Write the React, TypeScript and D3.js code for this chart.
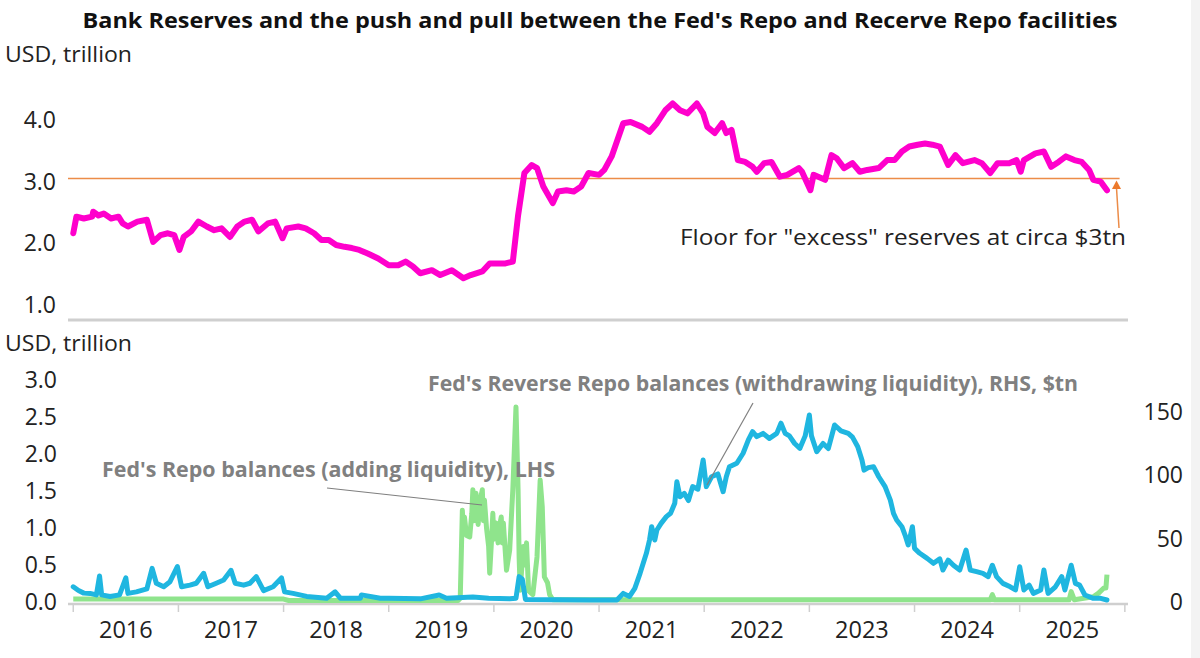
import { useRef, useEffect } from 'react';
import * as d3 from 'd3';

const TITLE = "Bank Reserves and the push and pull between the Fed's Repo and Recerve Repo facilities";
const UNIT_LABEL = 'USD, trillion';
const YEARS = [2016, 2017, 2018, 2019, 2020, 2021, 2022, 2023, 2024, 2025];
const TOP_TICKS = [1, 2, 3, 4];
const LHS_TICKS = [0, 0.5, 1, 1.5, 2, 2.5, 3];
const RHS_TICKS = [0, 50, 100, 150];
const FLOOR = 3.05;
const FLOOR_NOTE = 'Floor for "excess" reserves at circa $3tn';
const REPO_NOTE = "Fed's Repo balances (adding liquidity), LHS";
const RRP_NOTE = "Fed's Reverse Repo balances (withdrawing liquidity), RHS, $tn";

// bank reserves, [decimal year, USD tn]
const reserves: [number, number][] = [
  [2016.0, 2.16], [2016.03, 2.43], [2016.1, 2.4], [2016.18, 2.43], [2016.19, 2.51], [2016.24, 2.45], [2016.29, 2.48], [2016.36, 2.4],
  [2016.43, 2.43], [2016.47, 2.32], [2016.52, 2.27], [2016.61, 2.35], [2016.7, 2.38], [2016.76, 2.02],
  [2016.83, 2.13], [2016.9, 2.16], [2016.96, 2.13], [2017.01, 1.89], [2017.05, 2.1], [2017.12, 2.19],
  [2017.19, 2.35], [2017.27, 2.27], [2017.34, 2.21], [2017.41, 2.24], [2017.49, 2.1], [2017.56, 2.27],
  [2017.63, 2.35], [2017.7, 2.38], [2017.76, 2.19], [2017.85, 2.32], [2017.92, 2.35], [2017.99, 2.08],
  [2018.03, 2.24], [2018.14, 2.27], [2018.21, 2.24], [2018.29, 2.16], [2018.36, 2.05], [2018.43, 2.05],
  [2018.5, 1.97], [2018.58, 1.94], [2018.65, 1.92], [2018.72, 1.89], [2018.8, 1.83], [2018.9, 1.75],
  [2019.0, 1.64], [2019.09, 1.64], [2019.16, 1.7], [2019.23, 1.62], [2019.3, 1.51], [2019.41, 1.56],
  [2019.49, 1.48], [2019.6, 1.56], [2019.71, 1.43], [2019.78, 1.48], [2019.89, 1.54], [2019.96, 1.67],
  [2020.03, 1.67], [2020.11, 1.67], [2020.18, 1.7], [2020.23, 2.45], [2020.29, 3.14], [2020.36, 3.27],
  [2020.41, 3.22], [2020.47, 2.92], [2020.56, 2.65], [2020.61, 2.84], [2020.69, 2.86], [2020.76, 2.84],
  [2020.83, 2.92], [2020.9, 3.14], [2021.0, 3.11], [2021.05, 3.19], [2021.12, 3.41], [2021.23, 3.95],
  [2021.3, 3.97], [2021.41, 3.89], [2021.48, 3.81], [2021.55, 3.95], [2021.63, 4.16], [2021.7, 4.27],
  [2021.77, 4.16], [2021.84, 4.11], [2021.93, 4.27], [2021.99, 4.11], [2022.03, 3.89], [2022.1, 3.79],
  [2022.17, 3.95], [2022.21, 3.79], [2022.26, 3.84], [2022.32, 3.35], [2022.39, 3.32], [2022.46, 3.24],
  [2022.5, 3.16], [2022.57, 3.3], [2022.64, 3.32], [2022.72, 3.08], [2022.79, 3.11], [2022.9, 3.22],
  [2022.93, 3.16], [2023.01, 2.86], [2023.04, 3.11], [2023.15, 3.03], [2023.21, 3.43], [2023.26, 3.38],
  [2023.33, 3.22], [2023.41, 3.3], [2023.48, 3.16], [2023.55, 3.19], [2023.66, 3.22], [2023.74, 3.35],
  [2023.81, 3.35], [2023.88, 3.49], [2023.95, 3.57], [2024.03, 3.6], [2024.1, 3.62], [2024.17, 3.6],
  [2024.24, 3.57], [2024.32, 3.27], [2024.39, 3.43], [2024.46, 3.3], [2024.57, 3.35], [2024.64, 3.3],
  [2024.72, 3.14], [2024.79, 3.3], [2024.9, 3.3], [2024.97, 3.35], [2025.01, 3.16], [2025.04, 3.35],
  [2025.15, 3.46], [2025.23, 3.49], [2025.3, 3.24], [2025.37, 3.32], [2025.44, 3.41], [2025.52, 3.35],
  [2025.59, 3.32], [2025.66, 3.19], [2025.7, 3.03], [2025.77, 3.0], [2025.83, 2.86],
];

// reverse repo, right-hand scale
const rrp: [number, number][] = [
  [2016.0, 12], [2016.05, 9], [2016.1, 7], [2016.16, 6.8], [2016.22, 5.6], [2016.25, 20.5], [2016.27, 5.6],
  [2016.35, 4.4], [2016.44, 5.6], [2016.5, 19], [2016.52, 6.8], [2016.6, 8], [2016.7, 10.4], [2016.75, 26.5],
  [2016.79, 14.8], [2016.86, 12], [2016.92, 16], [2016.99, 28], [2017.03, 12], [2017.11, 13.3],
  [2017.17, 14.8], [2017.24, 22.6], [2017.28, 12], [2017.36, 14.8], [2017.43, 17.3], [2017.5, 25],
  [2017.54, 14.8], [2017.62, 13.3], [2017.68, 14.8], [2017.74, 20], [2017.81, 9], [2017.9, 12],
  [2017.98, 19], [2018.01, 8], [2018.09, 6.8], [2018.22, 4.4], [2018.41, 3], [2018.49, 8], [2018.54, 3],
  [2018.73, 3], [2018.74, 5.6], [2018.92, 3], [2019.0, 2.9], [2019.3, 2.5], [2019.48, 5.5], [2019.55, 3],
  [2019.8, 4], [2019.95, 3], [2020.15, 2.5], [2020.21, 3], [2020.24, 20], [2020.27, 18], [2020.3, 2],
  [2020.6, 1.8], [2020.91, 1.6], [2021.17, 1.6], [2021.23, 6.8], [2021.29, 4.4], [2021.34, 10.8],
  [2021.39, 22.6], [2021.42, 30.5], [2021.45, 38.4], [2021.48, 48.9], [2021.5, 59.4], [2021.53, 48.9],
  [2021.55, 56.8], [2021.59, 62], [2021.64, 67.3], [2021.68, 70], [2021.72, 77.8], [2021.74, 94.9],
  [2021.77, 83], [2021.81, 85.7], [2021.85, 80], [2021.89, 91], [2021.94, 89], [2021.99, 112],
  [2022.02, 91], [2022.07, 98.8], [2022.13, 101], [2022.18, 87], [2022.21, 98.8], [2022.24, 106.7],
  [2022.31, 109.4], [2022.37, 117.3], [2022.42, 127.8], [2022.46, 134.3], [2022.5, 130.4], [2022.56, 133],
  [2022.62, 129], [2022.69, 133], [2022.73, 141], [2022.77, 133], [2022.81, 131], [2022.86, 125],
  [2022.91, 121.2], [2022.96, 131], [2023.0, 147.5], [2023.02, 131], [2023.07, 118.5], [2023.13, 125],
  [2023.18, 121], [2023.24, 139.6], [2023.3, 135], [2023.37, 133], [2023.41, 130], [2023.46, 122.5],
  [2023.5, 112], [2023.52, 104], [2023.56, 106], [2023.61, 106.7], [2023.66, 98.8], [2023.72, 91],
  [2023.77, 80.4], [2023.8, 69.9], [2023.83, 64.7], [2023.88, 59.4], [2023.91, 52.8], [2023.94, 45],
  [2023.98, 59.4], [2024.0, 42.3], [2024.05, 38.4], [2024.12, 34.4], [2024.18, 30.5], [2024.24, 34],
  [2024.27, 25.2], [2024.32, 33], [2024.37, 29], [2024.43, 25.2], [2024.49, 41], [2024.53, 25.2],
  [2024.59, 23.9], [2024.65, 22.6], [2024.7, 20], [2024.74, 29], [2024.78, 20], [2024.84, 14.7],
  [2024.91, 12], [2024.96, 9.5], [2025.0, 27.8], [2025.04, 9.5], [2025.09, 13.3], [2025.13, 6.8],
  [2025.2, 9.5], [2025.23, 25.2], [2025.27, 6.8], [2025.34, 12], [2025.4, 20], [2025.43, 9.5],
  [2025.49, 29], [2025.53, 14.7], [2025.57, 13.3], [2025.62, 5.5], [2025.7, 2.9], [2025.77, 2.9],
  [2025.83, 1.6],
];

// repo, left-hand scale
const repo: [number, number][] = [
  [2016.0, 0.04], [2018.0, 0.04], [2018.05, 0.02], [2019.66, 0.02], [2019.68, 0.05], [2019.7, 1.24],
  [2019.71, 0.95], [2019.72, 1.15], [2019.74, 0.9], [2019.77, 0.88], [2019.79, 1.2], [2019.8, 1.52],
  [2019.81, 1.1], [2019.83, 1.47], [2019.85, 1.05], [2019.87, 1.38], [2019.89, 1.52], [2019.9, 1.1],
  [2019.91, 1.38], [2019.93, 1.0], [2019.95, 0.75], [2019.96, 0.39], [2019.98, 0.9], [2019.99, 1.2],
  [2020.0, 0.85], [2020.02, 1.07], [2020.04, 0.8], [2020.05, 1.0], [2020.07, 1.15], [2020.08, 0.8],
  [2020.09, 1.07], [2020.12, 0.43], [2020.15, 0.7], [2020.18, 1.52], [2020.21, 2.64], [2020.23, 1.52],
  [2020.24, 0.6], [2020.25, 0.16], [2020.28, 0.75], [2020.29, 0.5], [2020.31, 0.8], [2020.33, 0.15],
  [2020.37, 0.1], [2020.41, 0.61], [2020.44, 1.65], [2020.46, 1.29], [2020.48, 0.34], [2020.51, 0.26],
  [2020.53, 0.1], [2020.56, 0.03], [2024.72, 0.03], [2024.74, 0.1], [2024.76, 0.03], [2025.47, 0.03],
  [2025.49, 0.14], [2025.52, 0.03], [2025.7, 0.07], [2025.75, 0.12], [2025.8, 0.19], [2025.82, 0.19],
  [2025.83, 0.37],
];

const FONT = '"Open Sans", "Noto Sans", sans-serif';

export default function App() {
  const svgRef = useRef<SVGSVGElement>(null);

  useEffect(() => {
    const svg = d3.select(svgRef.current);
    svg.selectAll('*').remove();

    const x = d3.scaleLinear().domain([2015.95, 2026.03]).range([68, 1128]);
    const yTop = d3.scaleLinear().domain([0.75, 5]).range([320, 58.6]);
    const yLeft = d3.scaleLinear().domain([0, 3]).range([602, 380.3]);
    const yRight = d3.scaleLinear().domain([0, 150]).range([602, 411.8]);

    svg.append('rect').attr('width', 1200).attr('height', 658).attr('fill', '#fff');
    svg.append('rect').attr('x', 1191).attr('width', 9).attr('height', 658).attr('fill', '#f3f3f3');

    svg.append('text')
      .attr('x', 600).attr('y', 28)
      .attr('text-anchor', 'middle')
      .attr('font-family', FONT).attr('font-weight', 700).attr('font-size', 21)
      .attr('fill', '#111')
      .attr('textLength', 1035).attr('lengthAdjust', 'spacingAndGlyphs')
      .text(TITLE);

    // ---- top panel: reserves
    svg.append('text')
      .attr('x', 5).attr('y', 62)
      .attr('font-family', FONT).attr('font-size', 22.5).attr('fill', '#222')
      .attr('textLength', 127).attr('lengthAdjust', 'spacingAndGlyphs')
      .text(UNIT_LABEL);

    svg.append('g').selectAll('text')
      .data(TOP_TICKS)
      .join('text')
      .attr('x', 56).attr('y', (d) => yTop(d))
      .attr('dy', '0.35em')
      .attr('text-anchor', 'end')
      .attr('font-family', FONT).attr('font-size', 23).attr('fill', '#222')
      .text((d) => d.toFixed(1));

    svg.append('line')
      .attr('x1', 68).attr('x2', 1128).attr('y1', 320).attr('y2', 320)
      .attr('stroke', '#cfcfcf').attr('stroke-width', 3);

    svg.append('line')
      .attr('x1', x(2015.95)).attr('x2', x(2025.95))
      .attr('y1', yTop(FLOOR)).attr('y2', yTop(FLOOR))
      .attr('stroke', '#ec8c48').attr('stroke-width', 1.5);

    const topLine = d3.line<[number, number]>()
      .x((d) => x(d[0]))
      .y((d) => yTop(d[1]));

    svg.append('path')
      .datum(reserves)
      .attr('d', topLine)
      .attr('fill', 'none')
      .attr('stroke', '#ff00cc')
      .attr('stroke-width', 6)
      .attr('stroke-linejoin', 'round')
      .attr('stroke-linecap', 'round');

    // arrow to the floor line
    svg.append('line')
      .attr('x1', 1119).attr('y1', 228).attr('x2', 1116.5).attr('y2', 188)
      .attr('stroke', '#ec8c48').attr('stroke-width', 1.5);
    svg.append('path')
      .attr('d', 'M1116.5,180.5 L1121,189 L1112,189 Z')
      .attr('fill', '#ec7a2c');

    svg.append('text')
      .attr('x', 1126).attr('y', 245)
      .attr('text-anchor', 'end')
      .attr('font-family', FONT).attr('font-size', 22.5).attr('fill', '#222')
      .attr('textLength', 446).attr('lengthAdjust', 'spacingAndGlyphs')
      .text(FLOOR_NOTE);

    // ---- bottom panel: repo and reverse repo
    svg.append('text')
      .attr('x', 5).attr('y', 351)
      .attr('font-family', FONT).attr('font-size', 22.5).attr('fill', '#222')
      .attr('textLength', 127).attr('lengthAdjust', 'spacingAndGlyphs')
      .text(UNIT_LABEL);

    svg.append('g').selectAll('text')
      .data(LHS_TICKS)
      .join('text')
      .attr('x', 57).attr('y', (d) => yLeft(d))
      .attr('dy', '0.35em')
      .attr('text-anchor', 'end')
      .attr('font-family', FONT).attr('font-size', 23).attr('fill', '#222')
      .text((d) => d.toFixed(1));

    svg.append('g').selectAll('text')
      .data(RHS_TICKS)
      .join('text')
      .attr('x', 1183).attr('y', (d) => yRight(d))
      .attr('dy', '0.35em')
      .attr('text-anchor', 'end')
      .attr('font-family', FONT).attr('font-size', 23).attr('fill', '#222')
      .text((d) => String(d));

    const axisG = svg.append('g');
    axisG.append('line')
      .attr('x1', 68).attr('x2', 1128).attr('y1', 604).attr('y2', 604)
      .attr('stroke', '#cfcfcf').attr('stroke-width', 2.5);
    axisG.selectAll('line.tick')
      .data([...YEARS, 2026])
      .join('line')
      .attr('class', 'tick')
      .attr('x1', (d) => x(d)).attr('x2', (d) => x(d))
      .attr('y1', 604).attr('y2', 612)
      .attr('stroke', '#cfcfcf').attr('stroke-width', 1.5);
    axisG.selectAll('text')
      .data(YEARS)
      .join('text')
      .attr('x', (d) => x(d + 0.5)).attr('y', 638)
      .attr('text-anchor', 'middle')
      .attr('font-family', FONT).attr('font-size', 23.5).attr('fill', '#222')
      .text((d) => String(d));

    const repoLine = d3.line<[number, number]>()
      .x((d) => x(d[0]))
      .y((d) => yLeft(d[1]));
    const rrpLine = d3.line<[number, number]>()
      .x((d) => x(d[0]))
      .y((d) => yRight(d[1]));

    svg.append('path')
      .datum(repo)
      .attr('d', repoLine)
      .attr('fill', 'none')
      .attr('stroke', '#8fe48c')
      .attr('stroke-width', 5)
      .attr('stroke-linejoin', 'round');

    svg.append('path')
      .datum(rrp)
      .attr('d', rrpLine)
      .attr('fill', 'none')
      .attr('stroke', '#1fb6e0')
      .attr('stroke-width', 5)
      .attr('stroke-linejoin', 'round')
      .attr('stroke-linecap', 'round');

    // labels with leader lines
    svg.append('line')
      .attr('x1', 327).attr('y1', 488).attr('x2', 482).attr('y2', 505)
      .attr('stroke', '#7f7f7f').attr('stroke-width', 1.2);
    svg.append('line')
      .attr('x1', 753).attr('y1', 403).attr('x2', 707).attr('y2', 485)
      .attr('stroke', '#7f7f7f').attr('stroke-width', 1.2);

    svg.append('text')
      .attr('x', 102).attr('y', 477)
      .attr('font-family', FONT).attr('font-weight', 700).attr('font-size', 21)
      .attr('fill', '#808080')
      .attr('textLength', 453).attr('lengthAdjust', 'spacingAndGlyphs')
      .text(REPO_NOTE);
    svg.append('text')
      .attr('x', 428).attr('y', 391)
      .attr('font-family', FONT).attr('font-weight', 700).attr('font-size', 21)
      .attr('fill', '#808080')
      .attr('textLength', 650).attr('lengthAdjust', 'spacingAndGlyphs')
      .text(RRP_NOTE);
  }, []);

  return (
    <svg
      ref={svgRef}
      width={1200}
      height={658}
      style={{ position: 'absolute', left: 0, top: 0, display: 'block' }}
    />
  );
}
